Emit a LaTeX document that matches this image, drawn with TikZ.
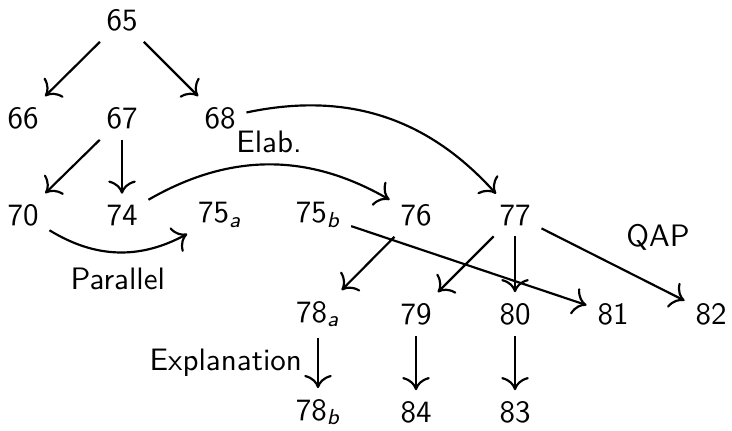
\documentclass[tikz,border=0pt]{standalone}
\usetikzlibrary{arrows.meta}
\begin{document}
\begin{tikzpicture}[x=0.3226pt,y=-0.3226pt,
  every node/.style={font=\sffamily},
  lbl/.style={font=\sffamily},
  conn/.style={-{To[scale=1.35]},line width=0.7pt}]
\useasboundingbox (0,0) rectangle (732,430);
\newcommand{\sbs}[1]{\textsubscript{\itshape #1}}
% row 1
\node (n65) at (122,20) {65};
% row 2
\node (n66) at (23,118) {66};
\node (n67) at (122,118) {67};
\node (n68) at (220,118) {68};
% row 3
\node (n70) at (23,215) {70};
\node (n74) at (122,215) {74};
\node (n75a) at (220,215) {75\sbs{a}};
\node (n75b) at (318,215) {75\sbs{b}};
\node (n76) at (416,215) {76};
\node (n77) at (515,215) {77};
% row 4
\node (n78a) at (318,314) {78\sbs{a}};
\node (n79) at (416,314) {79};
\node (n80) at (515,314) {80};
\node (n81) at (613,314) {81};
\node (n82) at (711,314) {82};
% row 5
\node (n78b) at (318,412) {78\sbs{b}};
\node (n84) at (416,412) {84};
\node (n83) at (515,412) {83};
% label
\node[lbl] (qap) at (658,237) {QAP};
% edges
\draw[conn] (n65) -- (n66);
\draw[conn] (n65) -- (n68);
\draw[conn] (n67) -- (n70);
\draw[conn] (n67) -- (n74);
\draw[conn] (n68) to[bend left=30] (n77);
\draw[conn] (n74) to[bend left=30] node[midway,above,lbl] {Elab.} (n76);
\draw[conn] (n70) to[bend right=30] node[midway,below,lbl,yshift=-1.5pt] {Parallel} (n75a);
\draw[conn] (n75b) -- (n81);
\draw[conn] (n76) -- (n78a);
\draw[conn] (n77) -- (n79);
\draw[conn] (n77) -- (n80);
\draw[conn] (n77) -- (n82);
\draw[conn] (n78a) -- node[midway,left,lbl,xshift=-1.5pt] {Explanation} (n78b);
\draw[conn] (n79) -- (n84);
\draw[conn] (n80) -- (n83);
\end{tikzpicture}
\end{document}
